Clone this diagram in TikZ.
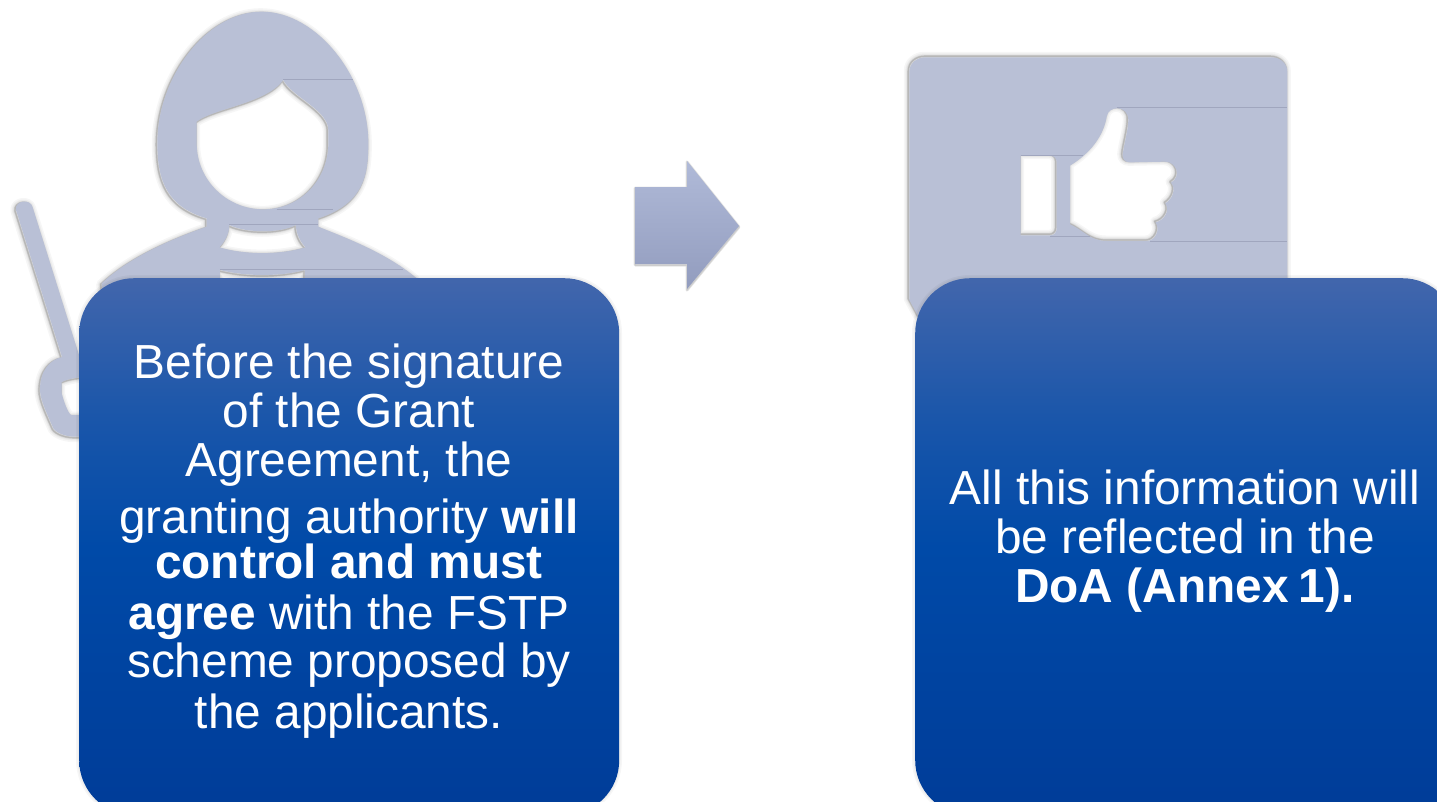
\documentclass[tikz,border=0pt]{standalone}
\usepackage{fontspec}
\setmainfont{Liberation Sans}
\definecolor{figfill}{RGB}{185,192,214}
\definecolor{seam}{RGB}{160,166,190}
\definecolor{bA}{RGB}{0,60,152}
\definecolor{bB}{RGB}{0,74,168}
\definecolor{bC}{RGB}{26,86,170}
\definecolor{bD}{RGB}{66,102,172}
\definecolor{arT}{RGB}{176,186,216}
\definecolor{arB}{RGB}{146,156,190}
\pgfdeclareverticalshading{boxfill}{100bp}{color(0bp)=(bA); color(25bp)=(bA); color(50bp)=(bB); color(62bp)=(bC); color(75bp)=(bD); color(100bp)=(bD)}
\tikzset{
  x=1pt,y=-1pt,
  panel/.style={draw=none,shading=boxfill,rounded corners=55pt,minimum width=#1,minimum height=537pt,inner sep=0pt,anchor=north west},
  paneltext/.style={text=white,align=center,inner sep=0pt,font=\fontsize{47.8}{49}\selectfont},
  seamline/.style={draw=seam,line width=.6pt},
  fuzz/.style={draw=black,opacity=.1,line width=#1,line join=round},
  softfuzz/.style={draw=black,opacity=.035,line width=#1,line join=round},
  silhouette/.style={fill=figfill,even odd rule,draw=none},
}
\def\personshape{
  (785,35) .. controls (950,35) and (1105,230) .. (1105,430)
  .. controls (1105,520) and (1095,610) .. (955,655) -- (955,680)
  .. controls (1000,700) and (1150,750) .. (1250,835) -- (1250,1000) -- (320,1000) -- (305,850)
  .. controls (400,760) and (550,705) .. (620,680) -- (620,655)
  .. controls (500,620) and (472,540) .. (472,430)
  .. controls (472,230) and (620,35) .. (785,35) -- cycle
  (590,365) .. controls (640,325) and (800,310) .. (850,240)
  .. controls (875,290) and (985,330) .. (985,390) -- (985,430)
  .. controls (985,540) and (900,628) .. (790,628)
  .. controls (680,628) and (590,540) .. (590,430) -- cycle
  (688,675) .. controls (740,700) and (840,700) .. (888,675)
  .. controls (888,700) and (900,725) .. (917,742)
  .. controls (840,765) and (735,765) .. (658,742)
  .. controls (675,725) and (688,700) .. (688,675) -- cycle
  (660,810) .. controls (740,830) and (840,830) .. (915,810) -- (915,860) -- (660,860) -- cycle
}
\def\pointershape{
  (48,630) .. controls (44,600) and (92,595) .. (98,622) -- (240,1075) -- (300,1320) -- (235,1310)
  .. controls (200,1312) and (170,1300) .. (160,1285) .. controls (145,1250) and (120,1200) .. (120,1170)
  .. controls (120,1110) and (150,1080) .. (186,1071) -- cycle
  (185,1146) .. controls (200,1138) and (220,1133) .. (300,1125) -- (300,1245) -- (215,1245)
  .. controls (205,1245) and (190,1200) .. (185,1180) -- cycle
}
\def\plateshape{
  (58,95) .. controls (58,70) and (80,52) .. (105,52) -- (1145,52)
  .. controls (1170,52) and (1192,70) .. (1192,95) -- (1192,900) -- (300,900) -- (85,830) -- (58,780) -- cycle
  (392,347) -- (480,347) .. controls (492,347) and (500,355) .. (500,367) -- (500,566)
  .. controls (500,578) and (492,586) .. (480,586) -- (392,586) -- cycle
  (540,377) .. controls (600,340) and (640,290) .. (650,230)
  .. controls (655,195) and (715,195) .. (715,240)
  .. controls (715,270) and (700,320) .. (698,345)
  .. controls (698,358) and (705,367) .. (720,367) -- (825,365)
  .. controls (860,365) and (875,410) .. (843,428)
  .. controls (858,445) and (850,475) .. (826,490)
  .. controls (840,510) and (825,540) .. (797,547)
  .. controls (812,570) and (795,603) .. (770,603) -- (650,603)
  .. controls (600,603) and (580,570) .. (540,553) -- cycle
}
\begin{document}
\begin{tikzpicture}
\useasboundingbox (0,0) rectangle (1437,801);
\clip (0,0) rectangle (1437,801);
\fill[white] (0,0) rectangle (1437,801);
% person
\begin{scope}[x=.33333pt,y=-.33333pt]
  \begin{scope}[xshift=-1pt,yshift=-1pt]
    \foreach \w in {9pt,6pt,4pt}{
      \draw[softfuzz=\w] \personshape;
      \draw[softfuzz=\w] \pointershape;
    }
    \foreach \w in {2.2pt,1.2pt}{
      \draw[fuzz=\w] \personshape;
      \draw[fuzz=\w] \pointershape;
    }
  \end{scope}
  \fill[silhouette] \personshape;
  \fill[silhouette] \pointershape;
  \draw[seamline] (850,238) -- (1058,238);
  \draw[seamline] (830,628) -- (1000,628);
  \draw[seamline] (688,673) -- (955,673);
  \draw[seamline] (660,808) -- (1210,808);
\end{scope}
% thumbs-up plate
\begin{scope}[xshift=890pt,yshift=-40pt,x=.33333pt,y=-.33333pt]
  \begin{scope}[xshift=-1pt,yshift=1pt]
    \foreach \w in {9pt,6pt,4pt}{
      \draw[softfuzz=\w] \plateshape;
    }
    \foreach \w in {2.2pt,1.2pt}{
      \draw[fuzz=\w] \plateshape;
    }
  \end{scope}
  \fill[silhouette] \plateshape;
  \draw[seamline] (680,202) -- (1190,202);
  \draw[seamline] (392,347) -- (580,347);
  \draw[seamline] (480,588) -- (600,588);
  \draw[seamline] (780,604) -- (1190,604);
\end{scope}
% arrow
\foreach \w in {3pt,1.5pt}{
  \draw[fuzz=\w,yshift=-1pt] (635,187) -- (687,187) -- (687,161) -- (739,226) -- (687,289) -- (687,264) -- (635,264) -- cycle;
}
\path[top color=arT,bottom color=arB] (635,187) -- (687,187) -- (687,161) -- (739,226) -- (687,289) -- (687,264) -- (635,264) -- cycle;
% panels
\foreach \w in {6pt,3pt}{
  \draw[softfuzz=\w,rounded corners=55pt] (79,278) rectangle (619,815);
  \draw[softfuzz=\w,rounded corners=55pt] (915,278) rectangle (1457,815);
}
\node[panel=540pt] (boxA) at (79,278) {};
\node[panel=542pt] (boxB) at (915,278) {};
\node[paneltext] (textA) at (349,541) {Before the signature\\of the Grant\\Agreement, the\\[8pt]granting authority \textbf{will}\\[-4pt]\textbf{control and must}\\[2pt]\textbf{agree} with the FSTP\\[-1pt]scheme proposed by\\[2pt]the applicants.};
\node[paneltext] (textB) at (1185,541) {All this information will\\be reflected in the\\\textbf{DoA (Annex\kern-3pt\ 1).}};
\end{tikzpicture}
\end{document}
